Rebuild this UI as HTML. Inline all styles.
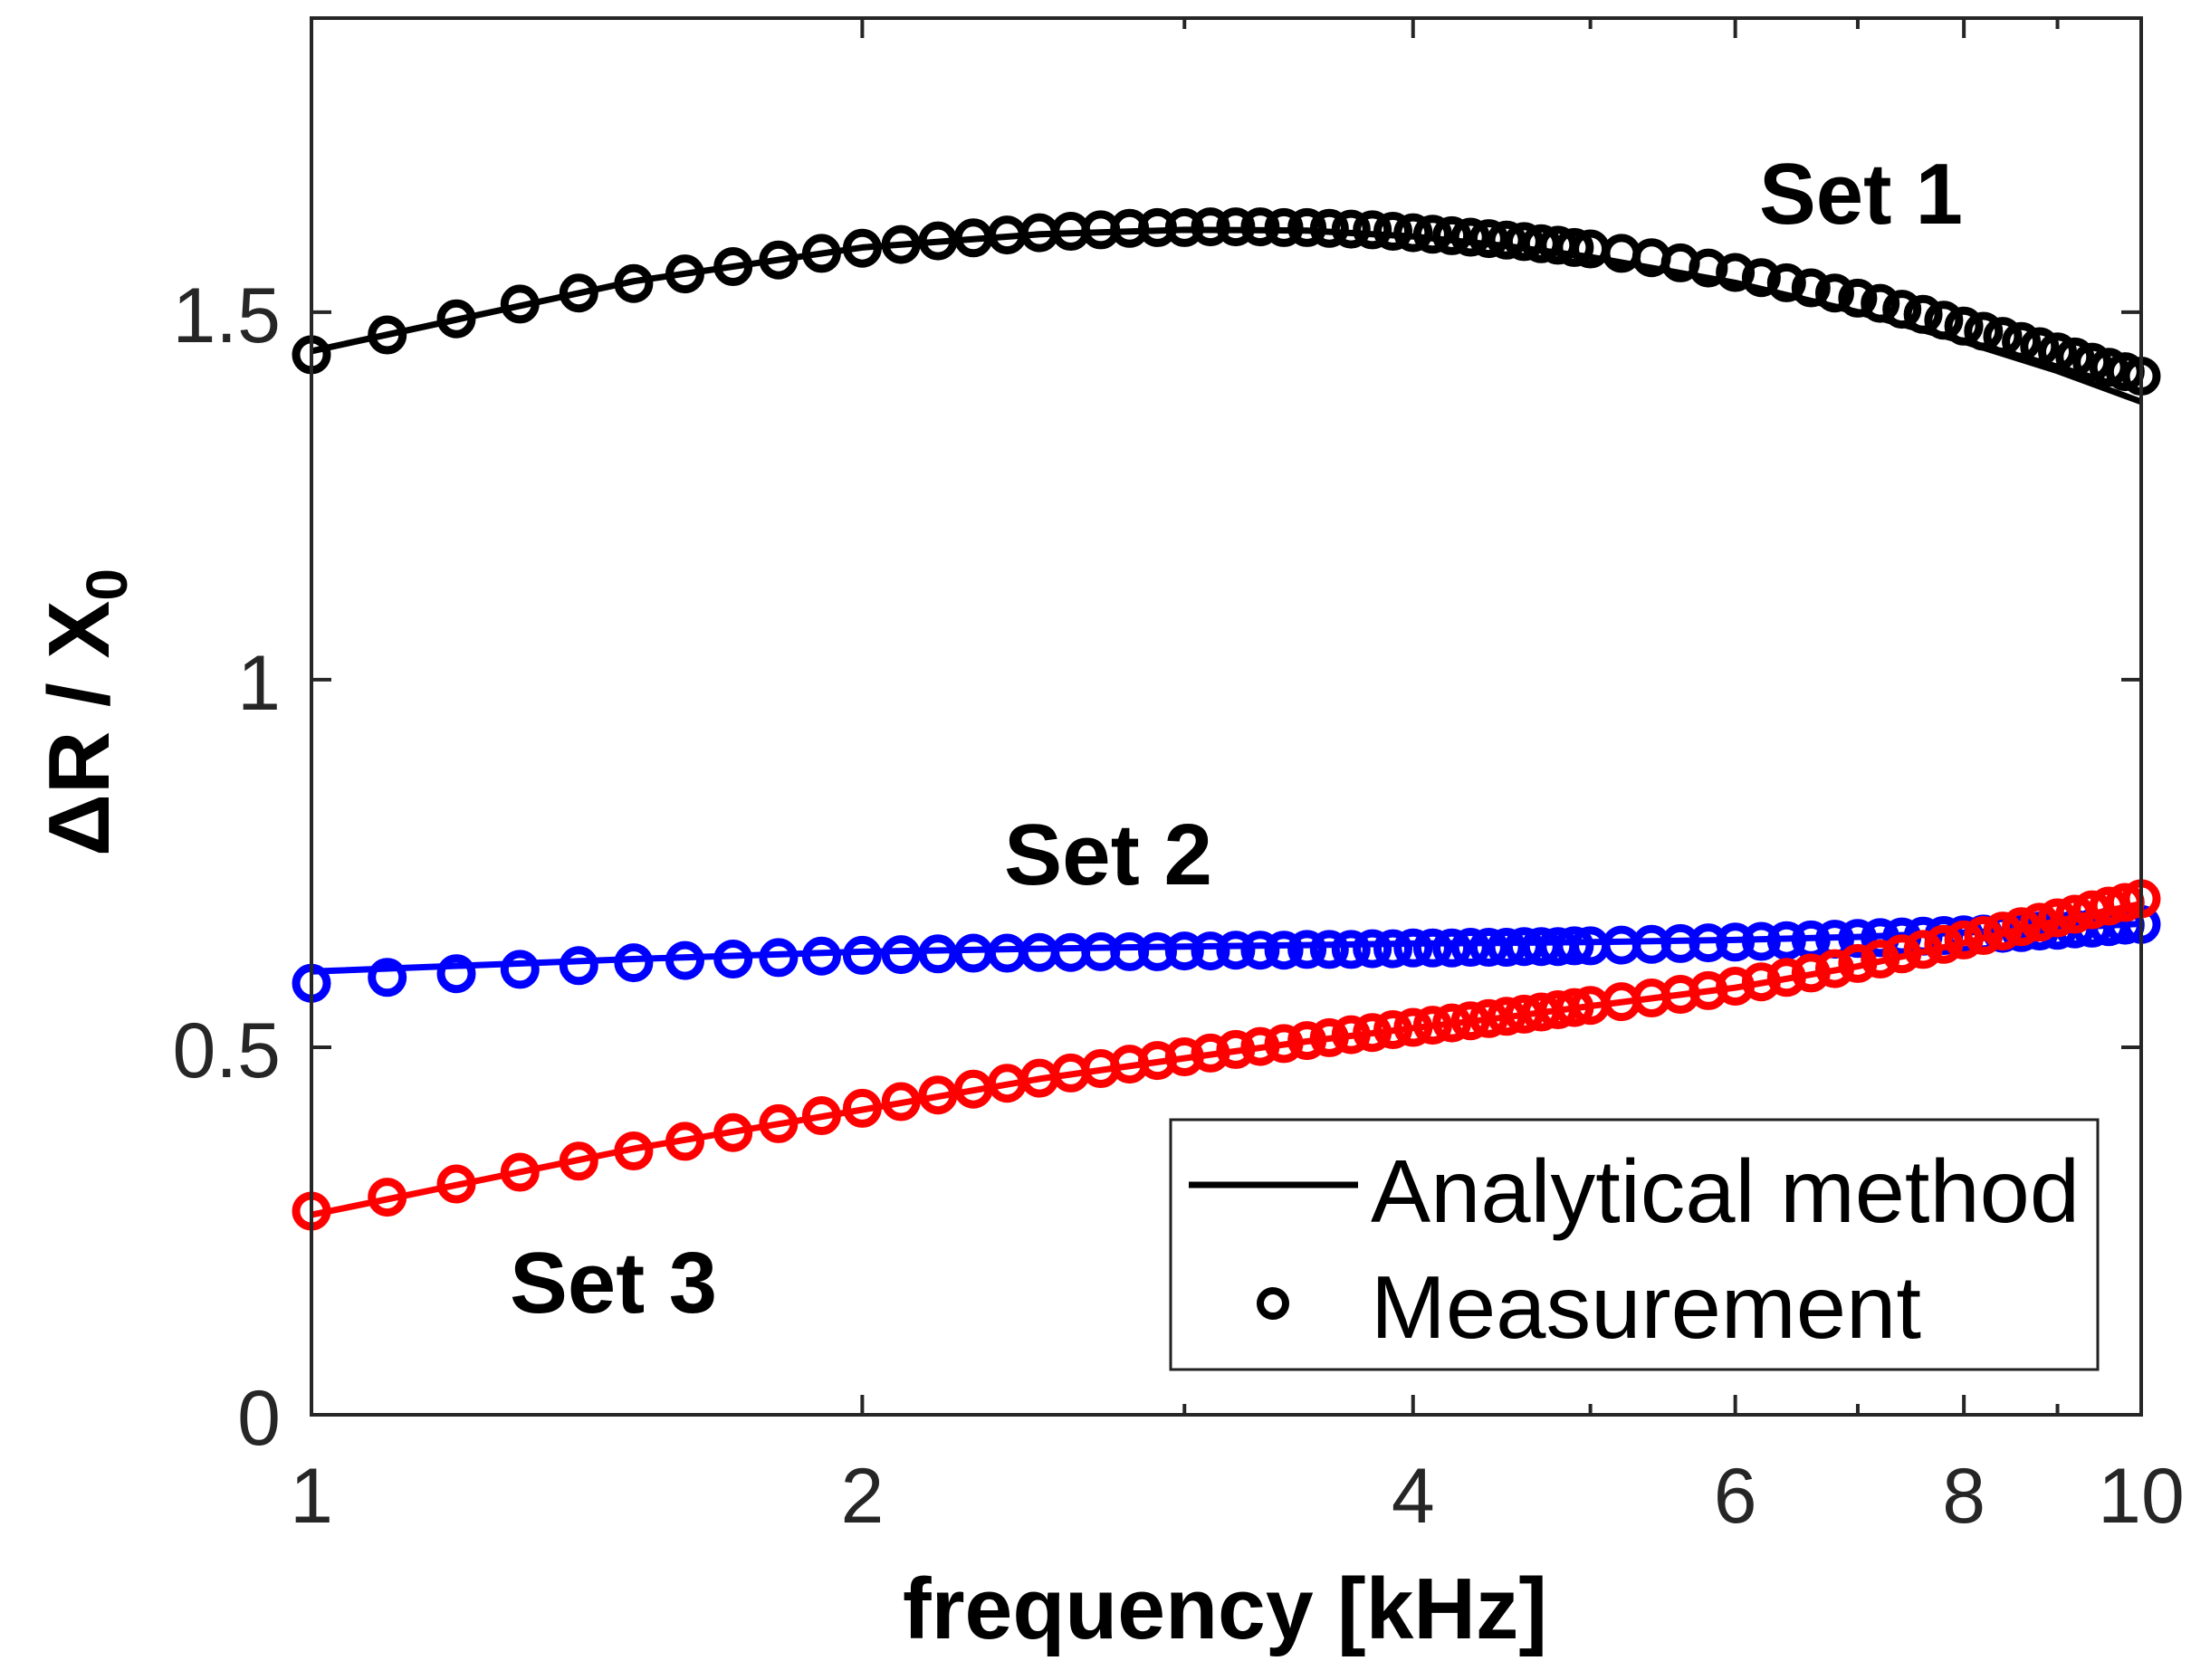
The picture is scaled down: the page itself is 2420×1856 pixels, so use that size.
<!DOCTYPE html>
<html><head><meta charset="utf-8"><style>
html,body{margin:0;padding:0;background:#fff;}
svg{display:block;font-family:"Liberation Sans",Arial,sans-serif;}
</style></head><body>
<svg id="chart" width="2420" height="1856" viewBox="0 0 2420 1856" xmlns="http://www.w3.org/2000/svg">
<rect x="0" y="0" width="2420" height="1856" fill="#fff"/>
<g id="series"></g>
<g id="axes"></g>
<text x="1943" y="247" font-weight="bold" font-size="96" textLength="225" lengthAdjust="spacingAndGlyphs">Set 1</text>
<text x="1109" y="977" font-weight="bold" font-size="96" textLength="230" lengthAdjust="spacingAndGlyphs">Set 2</text>
<text x="563" y="1450" font-weight="bold" font-size="96" textLength="229" lengthAdjust="spacingAndGlyphs">Set 3</text>
<text x="1353" y="1810" text-anchor="middle" font-weight="bold" font-size="96" textLength="712" lengthAdjust="spacingAndGlyphs">frequency [kHz]</text>
<text transform="translate(120,787) rotate(-90)" text-anchor="middle" font-weight="bold" font-size="96">ΔR / X<tspan font-size="64" dy="20">0</tspan></text>
<g>
<rect x="1293" y="1237" width="1024" height="276" fill="#fff" stroke="#222" stroke-width="3"/>
<line x1="1313" y1="1309" x2="1500" y2="1309" stroke="#000" stroke-width="7"/>
<text x="1514" y="1350" font-size="98" textLength="783" lengthAdjust="spacingAndGlyphs">Analytical method</text>
<circle cx="1406" cy="1440" r="14" fill="none" stroke="#000" stroke-width="8"/>
<text x="1514" y="1478" font-size="98" textLength="608" lengthAdjust="spacingAndGlyphs">Measurement</text>
</g>
</svg>
<script>
const freqs = [1.0,1.1,1.2,1.3,1.4,1.5,1.6,1.7,1.8,1.9,2.0,2.1,2.2,2.3,2.4,2.5,2.6,2.7,2.8,2.9,3.0,3.1,3.2,3.3,3.4,3.5,3.6,3.7,3.8,3.9,4.0,4.1,4.2,4.3,4.4,4.5,4.6,4.7,4.8,4.9,5.0,5.2,5.4,5.6,5.8,6.0,6.2,6.4,6.6,6.8,7.0,7.2,7.4,7.6,7.8,8.0,8.2,8.4,8.6,8.8,9.0,9.2,9.4,9.6,9.8,10];
const set1Meas = [1.442,1.469,1.491,1.511,1.526,1.539,1.552,1.562,1.571,1.580,1.587,1.592,1.597,1.601,1.605,1.608,1.610,1.612,1.614,1.615,1.615,1.616,1.616,1.616,1.615,1.615,1.614,1.613,1.612,1.610,1.608,1.606,1.604,1.602,1.600,1.598,1.596,1.593,1.591,1.588,1.586,1.580,1.574,1.567,1.560,1.554,1.547,1.540,1.533,1.526,1.519,1.512,1.504,1.497,1.489,1.481,1.474,1.467,1.460,1.453,1.446,1.439,1.432,1.425,1.419,1.413];
const set2Meas = [0.587,0.595,0.600,0.606,0.611,0.615,0.618,0.620,0.622,0.624,0.625,0.626,0.627,0.628,0.628,0.629,0.629,0.630,0.630,0.630,0.631,0.631,0.632,0.632,0.632,0.633,0.633,0.633,0.634,0.634,0.635,0.635,0.635,0.636,0.636,0.636,0.637,0.637,0.637,0.638,0.638,0.639,0.640,0.641,0.642,0.643,0.644,0.645,0.646,0.647,0.648,0.649,0.650,0.651,0.652,0.653,0.654,0.655,0.656,0.658,0.659,0.661,0.662,0.664,0.666,0.667];
const set3Meas = [0.277,0.296,0.314,0.330,0.345,0.359,0.372,0.384,0.396,0.407,0.417,0.426,0.435,0.443,0.451,0.458,0.465,0.471,0.477,0.482,0.487,0.492,0.497,0.501,0.505,0.509,0.513,0.517,0.520,0.524,0.527,0.530,0.533,0.536,0.539,0.542,0.545,0.548,0.551,0.554,0.557,0.562,0.567,0.572,0.577,0.583,0.589,0.595,0.601,0.607,0.614,0.620,0.627,0.633,0.640,0.646,0.652,0.658,0.664,0.670,0.676,0.681,0.687,0.692,0.697,0.702];
const lineFreqs = [1,1.5,2,2.5,3,3.5,4,4.5,5,6,7,8,9,10];
const set1Line = [1.447,1.542,1.588,1.606,1.612,1.611,1.603,1.590,1.575,1.540,1.500,1.460,1.420,1.378];
const set2Line = [0.603,0.620,0.630,0.634,0.637,0.639,0.641,0.642,0.643,0.646,0.650,0.656,0.662,0.668];
const set3Line = [0.272,0.362,0.415,0.457,0.485,0.508,0.526,0.541,0.556,0.581,0.610,0.642,0.672,0.695];
const yTicks = [0,0.5,1,1.5];
const yTickLabels = ["0","0.5","1","1.5"];
const xTicks = [1,2,4,6,8,10];
const xTickLabels = ["1","2","4","6","8","10"];
const xMinorTicks = [3,5,7,9];

const L=344,R=2365,T=20,B=1563,YMAX=1.9;
const NS="http://www.w3.org/2000/svg";
function xs(f){return L+(R-L)*Math.log10(f);}
function ys(v){return B-(B-T)*v/YMAX;}
function mk(tag,attrs,parent){const e=document.createElementNS(NS,tag);for(const k in attrs)e.setAttribute(k,attrs[k]);parent.appendChild(e);return e;}
const series=document.getElementById('series');
const axes=document.getElementById('axes');

function drawSet(name,color,lf,lv,mf,mv){
  const g=mk('g',{},series);
  
  
  const d=lf.map((f,i)=>(i?'L':'M')+xs(f).toFixed(1)+' '+ys(lv[i]).toFixed(1)).join(' ');
  const p=mk('path',{d:d,fill:'none',stroke:color,'stroke-width':7,'stroke-linejoin':'round'},g);
  
  
  mf.forEach((f,i)=>{
    const c=mk('circle',{cx:xs(f).toFixed(1),cy:ys(mv[i]).toFixed(1),r:17,fill:'none',stroke:color,'stroke-width':9},g);
    
    
  });
}
drawSet('set-1','#000',lineFreqs,set1Line,freqs,set1Meas);
drawSet('set-2','#0000ff',lineFreqs,set2Line,freqs,set2Meas);
drawSet('set-3','#ff0000',lineFreqs,set3Line,freqs,set3Meas);

const frame=mk('rect',{x:L,y:T,width:R-L,height:B-T,fill:'none',stroke:'#262626','stroke-width':4},axes);


yTicks.forEach((v,i)=>{
  const y=ys(v);
  const t1=mk('line',{x1:L,y1:y,x2:L+22,y2:y,stroke:'#262626','stroke-width':4},axes);
  
  
  const t2=mk('line',{x1:R,y1:y,x2:R-22,y2:y,stroke:'#262626','stroke-width':4},axes);
  
  
  const tx=mk('text',{x:310,y:y+33,'text-anchor':'end','font-size':86,fill:'#262626'},axes);
  
  
  tx.textContent=yTickLabels[i];
});
xTicks.forEach((f,i)=>{
  const x=xs(f);
  const t1=mk('line',{x1:x,y1:B,x2:x,y2:B-22,stroke:'#262626','stroke-width':4},axes);
  
  
  const t2=mk('line',{x1:x,y1:T,x2:x,y2:T+22,stroke:'#262626','stroke-width':4},axes);
  
  
  const tx=mk('text',{x:x,y:1682,'text-anchor':'middle','font-size':86,fill:'#262626'},axes);
  
  
  tx.textContent=xTickLabels[i];
});
xMinorTicks.forEach(f=>{
  const x=xs(f);
  const t1=mk('line',{x1:x,y1:B,x2:x,y2:B-12,stroke:'#262626','stroke-width':4},axes);
  
  
  const t2=mk('line',{x1:x,y1:T,x2:x,y2:T+12,stroke:'#262626','stroke-width':4},axes);
  
  
});
</script>
</body></html>
